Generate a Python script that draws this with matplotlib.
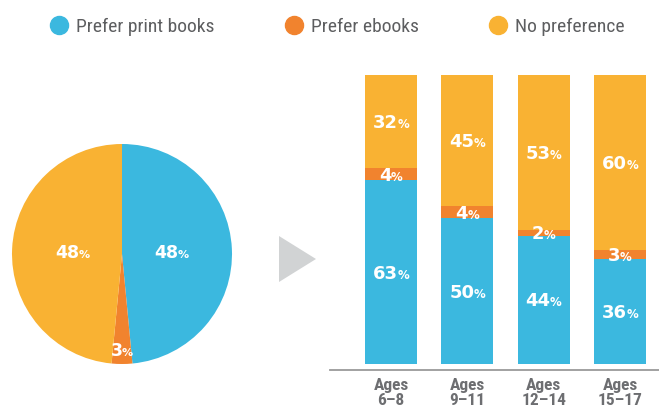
import matplotlib
matplotlib.use("Agg")
import numpy as np
import matplotlib.pyplot as plt
from matplotlib import font_manager
from matplotlib.font_manager import FontProperties
from matplotlib.lines import Line2D
from matplotlib.patches import Polygon
from matplotlib.textpath import TextToPath

# ---- data ----
series_names = ["Prefer print books", "Prefer ebooks", "No preference"]
overall = [48, 3, 48]
age_groups = ["Ages\n6\u20138", "Ages\n9\u201311", "Ages\n12\u201314", "Ages\n15\u201317"]
print_books = [63, 50, 44, 36]
ebooks = [4, 4, 2, 3]
no_pref = [32, 45, 53, 60]

BLUE = "#3BB8DF"
ORANGE = "#F1832E"
YELLOW = "#F9B233"
colors = [BLUE, ORANGE, YELLOW]
TEXT_GRAY = "#5d5e60"


def narrow_props(size, weight="normal"):
    """Prefer a condensed face; fall back to DejaVu Sans."""
    for fam, stretch in [("Liberation Sans Narrow", "normal"),
                         ("Roboto Condensed", "normal"),
                         ("DejaVu Sans", "condensed")]:
        fp = FontProperties(family=fam, stretch=stretch, weight=weight, size=size)
        try:
            path = font_manager.findfont(fp, fallback_to_default=False)
        except Exception:
            continue
        if fam != "DejaVu Sans" or "Condensed" in path:
            return fp
    return FontProperties(family="Roboto", weight=weight, size=size * 0.82)


NUM_FONT = "DejaVu Sans"

W, H, DPI = 659, 416, 100
fig = plt.figure(figsize=(W / DPI, H / DPI), dpi=DPI)

_ttp = TextToPath()


def text_width(s, size):
    prop = FontProperties(family=NUM_FONT, weight="bold", size=size)
    w, h, d = _ttp.get_text_width_height_descent(s, prop, ismath=False)
    return w


def pct_label(ax, x, y, value, size, pct_size):
    """Write a value with a smaller % sign, centred on (x, y)."""
    num = str(value)
    wn = text_width(num, size)
    wp = text_width("%", pct_size)
    gap = -0.6
    start = -(wn + wp + gap) / 2
    base = -0.729 * size / 2
    ax.annotate(num, xy=(x, y), xytext=(start, base), textcoords="offset points",
                ha="left", va="baseline", color="white", fontsize=size,
                fontweight="bold", family=NUM_FONT)
    ax.annotate("%", xy=(x, y), xytext=(start + wn + gap, base), textcoords="offset points",
                ha="left", va="baseline", color="white", fontsize=pct_size,
                fontweight="bold", family=NUM_FONT)


def px_box(left, top, width, height):
    return [left / W, 1 - (top + height) / H, width / W, height / H]


# ---- pie: overall ----
pax = fig.add_axes(px_box(12, 144, 220, 220))
wedges, _ = pax.pie(overall, colors=colors, startangle=90, counterclock=False,
                    radius=1.0, wedgeprops=dict(linewidth=0))
pax.set_xlim(-1, 1)
pax.set_ylim(-1, 1)
label_r = [0.45, 0.87, 0.45]
for w, v, r in zip(wedges, overall, label_r):
    mid = np.deg2rad((w.theta1 + w.theta2) / 2)
    pct_label(pax, r * np.cos(mid), r * np.sin(mid), v, 12.5, 8)

# ---- arrow between the charts ----
fig.add_artist(Polygon([(279 / W, 1 - 236 / H), (279 / W, 1 - 282 / H), (316 / W, 1 - 259 / H)],
                       closed=True, transform=fig.transFigure, facecolor="#D1D3D4",
                       edgecolor="none"))

# ---- stacked bars by age ----
bax = fig.add_axes(px_box(330, 75, 329, 295))
xs = np.arange(len(age_groups))
bw = 0.68
b1 = np.array(print_books)
b2 = np.array(ebooks)
b3 = np.array(no_pref)
bax.bar(xs, b1, bw, color=BLUE, linewidth=0)
bax.bar(xs, b2, bw, bottom=b1, color=ORANGE, linewidth=0)
bax.bar(xs, b3, bw, bottom=b1 + b2, color=YELLOW, linewidth=0)
bax.set_xlim(-0.799, 3.511)
bax.set_ylim(-2.05, 99)
for i in range(len(xs)):
    pct_label(bax, xs[i], b1[i] / 2, b1[i], 13, 8.5)
    pct_label(bax, xs[i], b1[i] + b2[i] / 2, b2[i], 13, 8.5)
    pct_label(bax, xs[i], b1[i] + b2[i] + b3[i] / 2, b3[i], 13, 8.5)

for s in ["top", "left", "right"]:
    bax.spines[s].set_visible(False)
bax.spines["bottom"].set_color("#9a9a9a")
bax.spines["bottom"].set_linewidth(1.3)
bax.set_yticks([])
bax.set_xticks(xs)
bax.set_xticklabels(age_groups, fontproperties=narrow_props(12.5, "bold"),
                    color="#6d6e71", linespacing=1.0)
bax.tick_params(axis="x", length=0, pad=6)

# ---- legend ----
handles = [Line2D([], [], marker="o", linestyle="none", markersize=13,
                  markerfacecolor=c, markeredgecolor=c) for c in colors]
fig.legend(handles, series_names, loc="center left",
           bbox_to_anchor=(50 / W, 1 - 27 / H), ncol=3, frameon=False,
           borderpad=0, borderaxespad=0, handlelength=0.95, handletextpad=0.4,
           columnspacing=3.6, prop=narrow_props(14),
           labelcolor=TEXT_GRAY)

fig.savefig("out.png", dpi=DPI)
